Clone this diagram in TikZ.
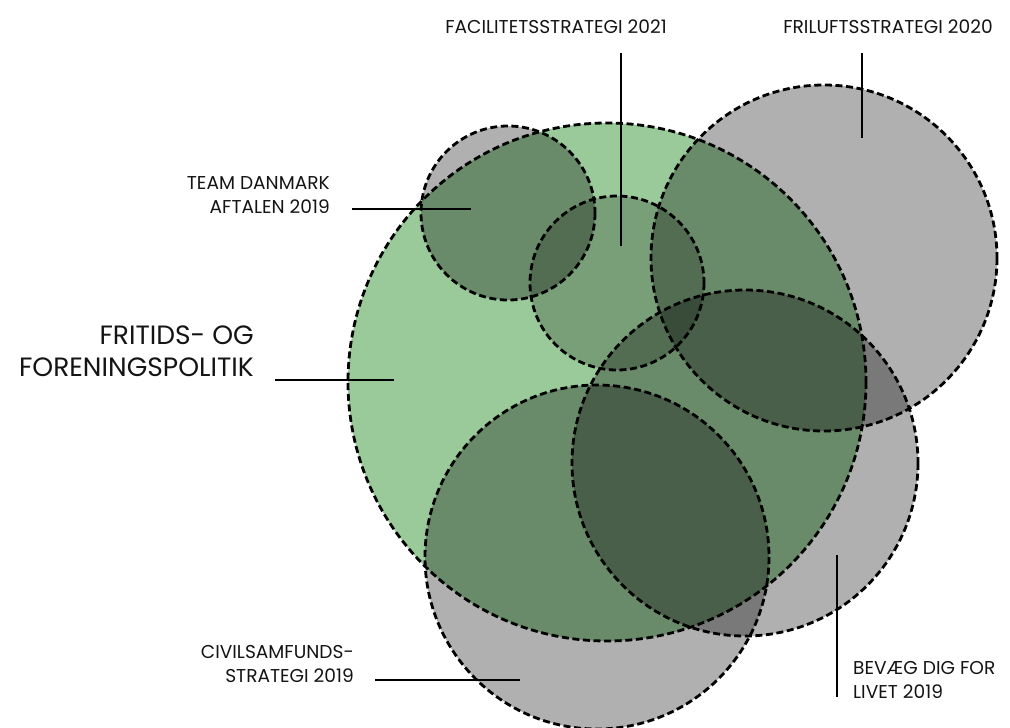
\documentclass[tikz,border=0pt]{standalone}
\usepackage{fontspec}
\setmainfont{Poppins}
\definecolor{polgreen}{RGB}{154,202,154}
\begin{document}
\begin{tikzpicture}[x=1pt,y=-1pt,
  circ/.style={draw=black, line width=2.8pt, dash pattern=on 7pt off 3.6pt},
  grayfill/.style={fill=black, fill opacity=0.31},
  lightfill/.style={fill=black, fill opacity=0.21},
  leader/.style={draw=black, line width=1.3pt},
  lbl/.style={inner sep=0pt, text=black!92, font=\fontsize{18.6}{24}\selectfont},
  biglbl/.style={inner sep=0pt, text=black!92, font=\fontsize{26.5}{32}\selectfont}]
\useasboundingbox (0,0) rectangle (1010,728);
% fills
\fill[polgreen] (607,382) circle (259);
\fill[grayfill] (508,213) circle (87);
\fill[lightfill] (617,283) circle (87);
\fill[grayfill] (824,258) circle (173);
\fill[grayfill] (745,463) circle (173);
\fill[grayfill] (597,557) circle (172);
% outlines
\draw[circ] (508,213) circle (87);
\draw[circ] (607,382) circle (259);
\draw[circ] (617,283) circle (87);
\draw[circ] (824,258) circle (173);
\draw[circ] (745,463) circle (173);
\draw[circ] (597,557) circle (172);
% labels
\node[lbl, anchor=center] (facL) at (556,27) {FACILITETSSTRATEGI 2021};
\node[lbl, anchor=center] (friL) at (888,27) {FRILUFTSSTRATEGI 2020};
\node[lbl, anchor=east, align=right] (teamL) at (330,195) {TEAM DANMARK\\AFTALEN 2019};
\node[biglbl, anchor=east, align=right] (polL) at (254,351) {FRITIDS- OG\\FORENINGSPOLITIK};
\node[lbl, anchor=east, align=right] (civL) at (354,664) {CIVILSAMFUNDS-\\STRATEGI 2019};
\node[lbl, anchor=west, align=left] (bevL) at (853,680) {BEVÆG DIG FOR\\LIVET 2019};
% leader ends
\coordinate (facA) at (621,53);  \coordinate (facB) at (621,246);
\coordinate (friA) at (862,53);  \coordinate (friB) at (862,138);
\coordinate (teamA) at (352,209); \coordinate (teamB) at (471,209);
\coordinate (polA) at (275,380); \coordinate (polB) at (394,380);
\coordinate (civA) at (375,680); \coordinate (civB) at (520,680);
\coordinate (bevA) at (837,555); \coordinate (bevB) at (837,697);
\draw[leader] (facA) -- (facB);
\draw[leader] (friA) -- (friB);
\draw[leader] (teamA) -- (teamB);
\draw[leader] (polA) -- (polB);
\draw[leader] (civA) -- (civB);
\draw[leader] (bevA) -- (bevB);
\end{tikzpicture}
\end{document}
